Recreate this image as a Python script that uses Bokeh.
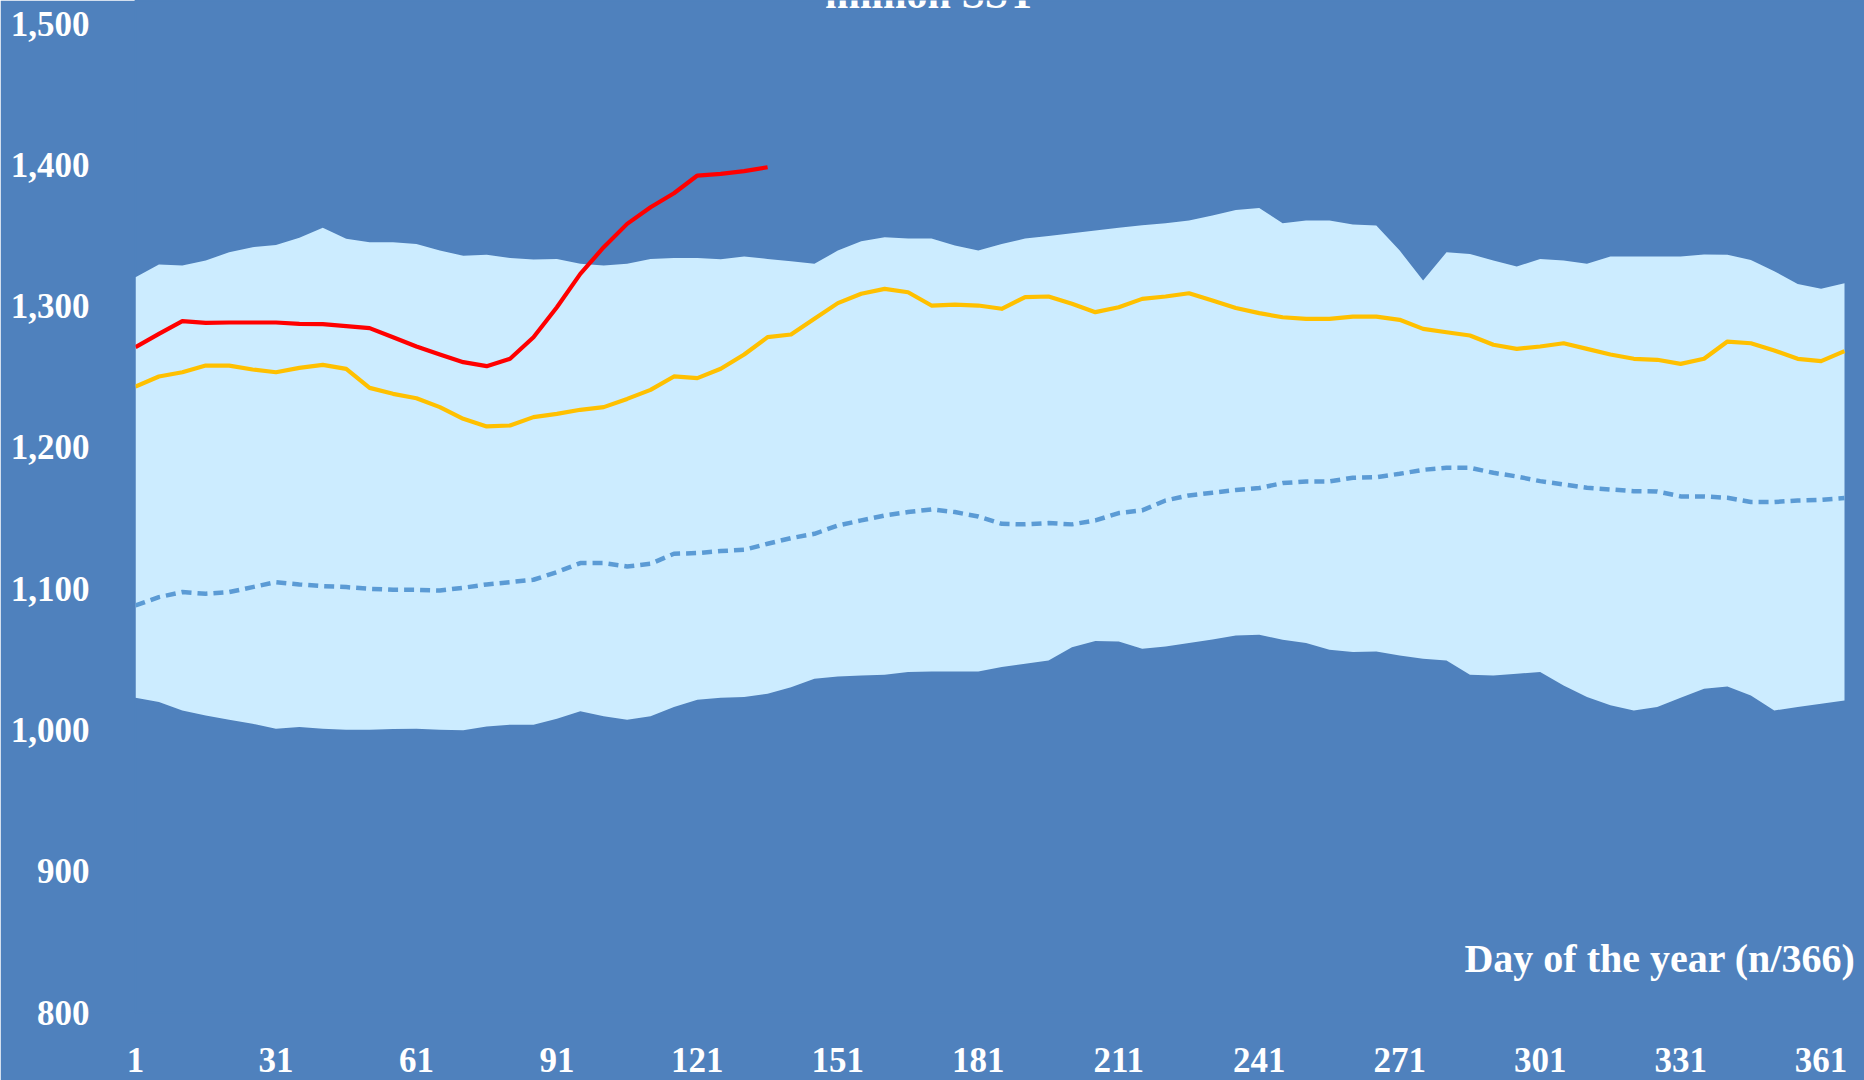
from bokeh.plotting import figure
from bokeh.models import FixedTicker, NumeralTickFormatter, Label
from bokeh.embed import file_html
from bokeh.resources import INLINE

# ---- data ----
days = list(range(1, 362, 5)) + [366]

band_max = [1320.5, 1329.4, 1328.7, 1332.3, 1338.1, 1341.7, 1343.3, 1348.3, 1355.4, 1347.6,
            1345.2, 1345.2, 1344.0, 1339.3, 1335.6, 1336.3, 1334.1, 1333.0, 1333.4, 1329.9,
            1328.7, 1329.9, 1333.4, 1334.1, 1334.1, 1333.2, 1335.1, 1333.4, 1331.8, 1329.9,
            1339.3, 1345.9, 1348.8, 1347.8, 1347.8, 1342.9, 1339.3, 1344.0, 1347.8, 1349.7,
            1351.6, 1353.5, 1355.4, 1357.3, 1358.7, 1360.6, 1364.1, 1368.1, 1369.5, 1358.7,
            1360.6, 1360.6, 1357.7, 1357.0, 1339.3, 1318.1, 1338.1, 1336.9, 1332.3, 1328.0,
            1333.4, 1332.3, 1329.9, 1335.1, 1335.1, 1335.1, 1335.1, 1336.5, 1336.3, 1332.7,
            1324.7, 1315.7, 1312.2, 1316.2]

band_min = [1022.8, 1019.7, 1013.8, 1010.3, 1007.2, 1004.4, 1000.8, 1002.0, 1000.8, 1000.1,
            1000.1, 1000.6, 1000.8, 1000.1, 999.7, 1002.5, 1003.7, 1003.7, 1007.9, 1013.3,
            1009.6, 1007.2, 1009.6, 1016.2, 1021.4, 1022.8, 1023.3, 1025.6, 1030.3, 1036.2,
            1037.9, 1038.6, 1039.1, 1041.0, 1041.4, 1041.4, 1041.4, 1044.5, 1046.8, 1049.2,
            1058.6, 1062.9, 1062.6, 1057.5, 1059.1, 1061.5, 1064.1, 1066.9, 1067.4, 1063.8,
            1061.5, 1056.8, 1055.1, 1055.6, 1052.7, 1050.4, 1049.2, 1039.1, 1038.6, 1039.8,
            1041.0, 1031.5, 1023.3, 1017.4, 1013.8, 1016.2, 1022.8, 1029.2, 1030.8, 1024.4,
            1013.8, 1016.2, 1018.5, 1020.9]

mean_vals = [1088.1, 1094.0, 1097.6, 1096.4, 1097.6, 1101.1, 1104.6, 1103.0, 1101.8, 1101.1,
             1099.9, 1099.2, 1099.2, 1098.7, 1100.6, 1103.0, 1104.6, 1106.3, 1111.7, 1118.1,
             1118.1, 1115.7, 1117.6, 1124.7, 1125.2, 1126.6, 1127.5, 1131.8, 1135.8, 1138.8,
             1144.7, 1148.3, 1151.8, 1154.2, 1156.1, 1154.2, 1151.1, 1145.9, 1145.5, 1146.4,
             1145.5, 1148.3, 1153.5, 1155.4, 1162.4, 1166.0, 1167.9, 1169.8, 1171.2, 1174.7,
             1175.9, 1175.9, 1178.5, 1178.9, 1181.3, 1184.1, 1185.6, 1185.6, 1182.0, 1179.4,
             1176.1, 1173.8, 1171.4, 1170.2, 1169.0, 1168.8, 1165.3, 1165.3, 1164.3, 1161.3,
             1161.3, 1162.4, 1162.9, 1164.1]

prev_year = [1243.1, 1250.2, 1253.2, 1257.9, 1257.9, 1255.1, 1253.2, 1256.3, 1258.4, 1255.6,
             1242.1, 1237.9, 1234.8, 1228.5, 1220.2, 1214.8, 1215.5, 1221.4, 1223.7, 1226.6,
             1228.5, 1234.3, 1240.7, 1250.2, 1249.0, 1255.6, 1265.7, 1278.0, 1279.9, 1291.0,
             1302.1, 1308.7, 1312.2, 1309.8, 1300.4, 1301.1, 1300.4, 1298.1, 1306.3, 1306.8,
             1301.6, 1295.7, 1299.2, 1305.1, 1306.8, 1309.1, 1303.9, 1298.7, 1295.0, 1292.1,
             1290.9, 1290.9, 1292.6, 1292.6, 1290.3, 1283.9, 1281.5, 1279.2, 1272.6, 1269.7,
             1271.4, 1273.7, 1269.7, 1265.7, 1262.7, 1262.0, 1259.1, 1262.7, 1274.9, 1273.7,
             1268.6, 1262.7, 1261.0, 1268.1]

current_year = [1270.9, 1280.3, 1289.3, 1288.1, 1288.4, 1288.4, 1288.4, 1287.4, 1287.2, 1285.8,
                1284.4, 1278.0, 1271.4, 1265.7, 1260.3, 1257.5, 1262.7, 1278.0, 1299.2, 1322.8,
                1341.7, 1358.2, 1370.0, 1379.9, 1392.4, 1393.6, 1395.5, 1398.3]
current_days = days[:len(current_year)]

x_ticks = list(range(1, 362, 30))
y_ticks = list(range(800, 1501, 100))

title_text = "million SST"
x_title = "Day of the year (n/366)"

# ---- style ----
BG = "#4F81BD"
BAND = "#CCECFF"
FONT = "Liberation Serif"

p = figure(width=1864, height=1080, x_range=(1, 370.27), y_range=(800, 1516.3),
           output_backend="svg", toolbar_location=None,
           min_border_left=135, min_border_right=0, min_border_top=0, min_border_bottom=68,
           background_fill_color=BG, border_fill_color=BG,
           outline_line_color=BG, outline_line_width=2)

p.xgrid.visible = False
p.ygrid.visible = False

p.varea(x=days, y1=band_min, y2=band_max, fill_color=BAND, fill_alpha=1.0)
p.line(days, mean_vals, line_color="#5B9BD5", line_width=4.5, line_dash="10 6")
p.line(days, prev_year, line_color="#FFC000", line_width=4.2, line_join="round")
p.line(current_days, current_year, line_color="#FF0000", line_width=4.2, line_join="round")

for ax in (p.xaxis[0], p.yaxis[0]):
    ax.axis_line_color = None
    ax.major_tick_line_color = None
    ax.minor_tick_line_color = None
    ax.major_label_text_color = "white"
    ax.major_label_text_font = FONT
    ax.major_label_text_font_style = "bold"
    ax.major_label_text_font_size = "35px"

p.xaxis[0].ticker = FixedTicker(ticks=x_ticks)
p.xaxis[0].major_label_standoff = 29
p.yaxis[0].ticker = FixedTicker(ticks=y_ticks)
p.yaxis[0].formatter = NumeralTickFormatter(format="0,0")
p.yaxis[0].major_label_standoff = 40

p.add_layout(Label(x=366, y=838, text=x_title, text_align="right", text_baseline="middle",
                   x_offset=11, text_color="white", text_font=FONT, text_font_style="bold",
                   text_font_size="40px"))
p.add_layout(Label(x=170.8, y=1512.8, y_offset=11, text=title_text, text_align="center",
                   text_baseline="alphabetic", text_color="white", text_font=FONT,
                   text_font_style="bold", text_font_size="42px"))

open("out.html", "w").write(file_html(p, INLINE))
